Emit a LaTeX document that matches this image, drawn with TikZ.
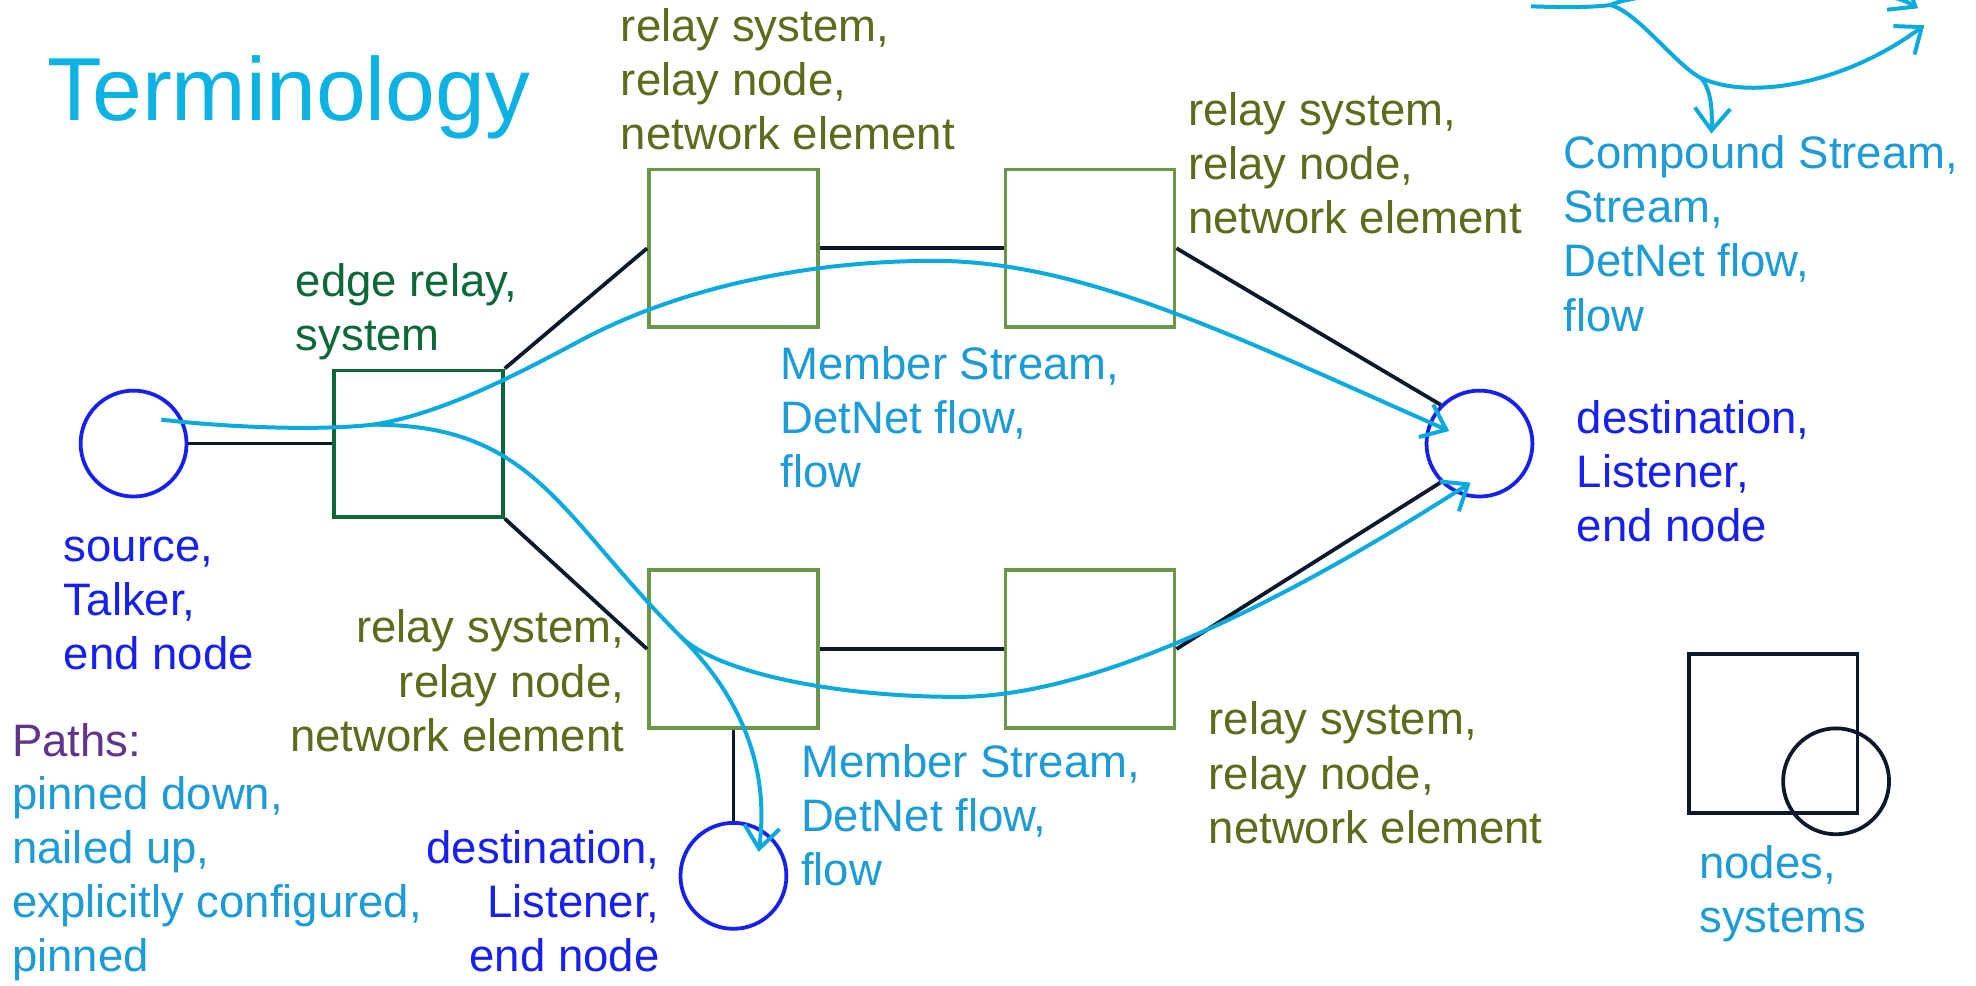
\documentclass[tikz,border=0pt]{standalone}
\usepackage{fontspec}
\setmainfont{Liberation Sans}
\usetikzlibrary{arrows.meta}
\definecolor{relayolive}{RGB}{94,106,28}
\definecolor{edgegreen}{RGB}{12,104,56}
\definecolor{boxgreen}{RGB}{106,150,72}
\definecolor{endblue}{RGB}{22,32,240}
\definecolor{streamtxt}{RGB}{28,155,215}
\definecolor{streamline}{RGB}{10,170,222}
\definecolor{pathpurple}{RGB}{96,52,140}
\definecolor{linkblack}{RGB}{12,25,45}
\definecolor{titleblue}{RGB}{12,178,228}
\tikzset{
  lbl/.style={inner sep=0pt, align=left, anchor=base west, font=\fontsize{10.27}{12.2}\selectfont},
  lblr/.style={inner sep=0pt, align=right, anchor=base east, font=\fontsize{10.27}{12.2}\selectfont},
  relaybox/.style={draw=boxgreen, line width=0.85pt, minimum width=1.34cm, minimum height=1.25cm, inner sep=0pt},
  edgebox/.style={draw=edgegreen, line width=0.85pt, minimum width=1.34cm, minimum height=1.16cm, inner sep=0pt},
  endnode/.style={circle, draw=endblue, line width=0.85pt, minimum size=0.84cm, inner sep=0pt},
  link/.style={draw=linkblack, line width=0.85pt},
  streampath/.style={draw=streamline, line width=0.9pt},
  stream/.style={streampath, -{Straight Barb[length=5pt,width=8pt]}}
}
\begin{document}
\begin{tikzpicture}[x=0.01cm,y=-0.01cm]
\clip (0,0) rectangle (1568,782);
\fill[white] (0,0) rectangle (1568,782);

% title
\node[anchor=base west, inner sep=0pt, font=\fontsize{20.2}{24}\selectfont, text=titleblue] (title) at (37,96) {Terminology};

% nodes
\node[endnode] (S) at (106,352) {};
\node[edgebox] (E) at (332,352) {};
\node[relaybox] (R1) at (582,197) {};
\node[relaybox] (R2) at (865,197) {};
\node[relaybox] (R3) at (582,515) {};
\node[relaybox] (R4) at (865,515) {};
\node[endnode] (D1) at (1174,352) {};
\node[endnode] (D2) at (582,695) {};

% legend
\node[draw=linkblack, line width=0.85pt, minimum width=1.34cm, minimum height=1.26cm, inner sep=0pt] (LS) at (1407,582) {};
\node[circle, draw=linkblack, line width=0.85pt, minimum size=0.84cm, inner sep=0pt] (LC) at (1457,620) {};

% links
\draw[link] (S.east) -- (E.west);
\draw[link] (E.north east) -- (R1.west);
\draw[link] (R1.east) -- (R2.west);
\draw[link] (R2.east) -- (D1.135);
\draw[link] (E.south east) -- (R3.west);
\draw[link] (R3.east) -- (R4.west);
\draw[link] (R4.east) -- (D1.225);
\draw[link] (R3.south) -- (D2.north);

% stream curves
\coordinate (a0) at (128,333);
\coordinate (p) at (296,337);
\coordinate (n) at (461,270);
\coordinate (m) at (741,207);
\coordinate (t1) at (1150,342);
\coordinate (q) at (540,505);
\coordinate (b1) at (760,553);
\coordinate (t2) at (1167,383);
\coordinate (t3) at (602,676);
\draw[stream] (a0) .. controls (180,339) and (250,342) .. (p)
  .. controls (351,328.5) and (412.6,295.9) .. (n)
  .. controls (540,228) and (641,207) .. (m)
  .. controls (861,207) and (985,269.5) .. (t1);
\draw[stream] (p) .. controls (424,337) and (444,409) .. (q)
  .. controls (568,533) and (660,553) .. (b1)
  .. controls (860,553) and (1000,490) .. (t2);
\draw[stream] (q) .. controls (580,545) and (612,600) .. (t3);

% compound stream inset
\coordinate (c0) at (1215,5);
\coordinate (cj) at (1278,4);
\coordinate (ck) at (1350,62);
\coordinate (t4) at (1527,20);
\coordinate (t5) at (1522,6.6);
\coordinate (t6) at (1358,106);
\draw[streampath] (c0) .. controls (1240,6) and (1262,6) .. (cj);
\draw[stream] (cj) .. controls (1300,-8) and (1480,-20) .. (t5);
\draw[stream] (cj) .. controls (1300,10) and (1330,52) .. (ck)
  .. controls (1390,80) and (1465,66) .. (t4);
\draw[stream] (ck) .. controls (1357,70) and (1359,85) .. (t6);

% labels (anchor = baseline of the last line)
\node[lbl, text=relayolive] (lR1) at (492,119) {relay system,\\relay node,\\network element};
\node[lbl, text=relayolive] (lR2) at (942,185) {relay system,\\relay node,\\network element};
\node[lbl, text=edgegreen] (lE) at (234,278) {edge relay,\\system};
\node[lbl, text=streamtxt] (lMS1) at (618.6,387) {Member Stream,\\DetNet flow,\\flow};
\node[lbl, text=endblue] (lD1) at (1250.6,429.6) {destination,\\Listener,\\end node};
\node[lbl, text=streamtxt] (lCS) at (1240,262.7) {Compound Stream,\\Stream,\\DetNet flow,\\flow};
\node[lbl, text=endblue] (lS) at (50,531) {source,\\Talker,\\end node};
\node[lblr, text=relayolive] (lR3) at (496,596) {relay system,\\relay node,\\network element};
\node[lbl, text=pathpurple] (lP) at (9,600) {Paths:};
\node[lbl, text=streamtxt] (lPL) at (9,771) {pinned down,\\nailed up,\\explicitly configured,\\pinned};
\node[lblr, text=endblue] (lD2) at (524,771) {destination,\\Listener,\\end node};
\node[lbl, text=streamtxt] (lMS2) at (635,703) {Member Stream,\\DetNet flow,\\flow};
\node[lbl, text=relayolive] (lR4) at (958.5,669) {relay system,\\relay node,\\network element};
\node[lbl, text=streamtxt] (lLeg) at (1347.7,740) {nodes,\\systems};
\end{tikzpicture}
\end{document}
